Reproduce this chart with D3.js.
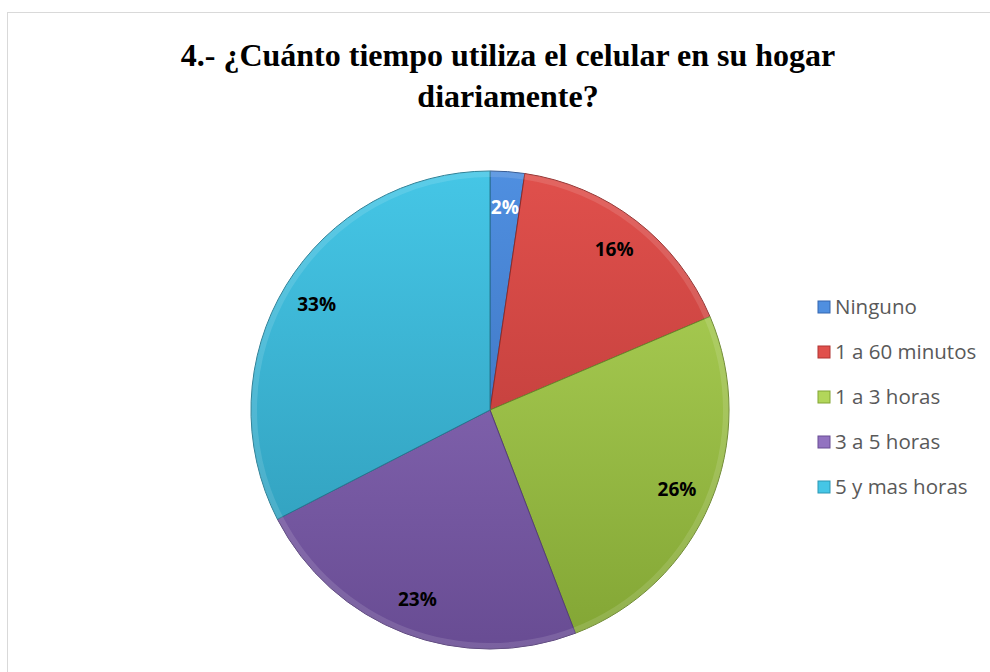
<!DOCTYPE html>
<html>
<head>
<meta charset="utf-8">
<script src="https://cdn.jsdelivr.net/npm/d3@7"></script>
<style>
  body { margin: 0; background: #fff; }
</style>
</head>
<body>
<svg id="chart" width="990" height="672"></svg>
<script>
// data (counts, shown as percentages)
const categories = ["Ninguno", "1 a 60 minutos", "1 a 3 horas", "3 a 5 horas", "5 y mas horas"];
const counts = [2, 14, 22, 20, 28];
const colorsLight = ["#4f8fe0", "#e0504c", "#b2d65a", "#9272c0", "#45c6e6"];
const colorsDark = ["#3566b0", "#b03533", "#82a534", "#684c93", "#2d97b4"];
const titleLines = ["4.- ¿Cuánto tiempo utiliza el celular en su hogar", "diariamente?"];

const width = 990, height = 672;
const cx = 490, cy = 410, radius = 239;

const svg = d3.select("#chart");

// chart area border
svg.append("rect")
  .attr("x", 7.5).attr("y", 12.5)
  .attr("width", 1000).attr("height", 700)
  .attr("fill", "#fff")
  .attr("stroke", "#d9d9d9");

const defs = svg.append("defs");
categories.forEach((c, i) => {
  const g = defs.append("linearGradient")
    .attr("id", "grad" + i)
    .attr("gradientUnits", "userSpaceOnUse")
    .attr("x1", 0).attr("y1", -radius)
    .attr("x2", 0).attr("y2", radius);
  g.append("stop").attr("offset", "0%").attr("stop-color", colorsLight[i]);
  g.append("stop").attr("offset", "100%").attr("stop-color", colorsDark[i]);
});

// title
svg.append("text")
  .attr("x", 508).attr("y", 66)
  .attr("text-anchor", "middle")
  .style("font-family", "'Liberation Serif', 'Times New Roman', serif")
  .style("font-weight", "bold")
  .style("font-size", "32px")
  .selectAll("tspan")
  .data(titleLines)
  .join("tspan")
    .attr("x", 508)
    .attr("dy", (d, i) => i === 0 ? 0 : 41)
    .text(d => d);

const total = d3.sum(counts);
const pie = d3.pie().sort(null).value(d => d)(counts);
const arc = d3.arc().innerRadius(0).outerRadius(radius);
const labelArc = d3.arc().innerRadius(radius * 0.85).outerRadius(radius * 0.85);

const g = svg.append("g").attr("transform", `translate(${cx},${cy})`);

g.selectAll("path.slice")
  .data(pie)
  .join("path")
    .attr("class", "slice")
    .attr("d", arc)
    .attr("fill", (d, i) => `url(#grad${i})`)
    .attr("stroke", (d, i) => d3.color(colorsDark[i]).darker(0.6))
    .attr("stroke-width", 1);

// subtle bevel highlight along the rim
const rimArc = d3.arc().innerRadius(radius - 6).outerRadius(radius);
g.selectAll("path.rim")
  .data(pie)
  .join("path")
    .attr("class", "rim")
    .attr("d", rimArc)
    .attr("fill", "#fff")
    .attr("opacity", 0.12);

g.selectAll("text.lbl")
  .data(pie)
  .join("text")
    .attr("class", "lbl")
    .attr("transform", d => `translate(${labelArc.centroid(d)})`)
    .attr("text-anchor", "middle")
    .attr("dy", "0.35em")
    .style("font-family", "'Open Sans', 'Liberation Sans', sans-serif")
    .style("font-weight", "bold")
    .style("font-size", "19px")
    .attr("fill", (d, i) => i === 0 ? "#fff" : "#000")
    .text(d => Math.round(d.data / total * 100) + "%");

// legend
const legendY = d3.scalePoint().domain(categories).range([307, 487]);
const legend = svg.append("g");
const items = legend.selectAll("g")
  .data(categories)
  .join("g")
    .attr("transform", d => `translate(818,${legendY(d)})`);
items.append("rect")
  .attr("x", 0).attr("y", -6)
  .attr("width", 12).attr("height", 12)
  .attr("fill", (d, i) => colorsLight[i])
  .attr("stroke", (d, i) => colorsDark[i]);
items.append("text")
  .attr("x", 17).attr("dy", "0.35em")
  .style("font-family", "'Open Sans', 'Liberation Sans', sans-serif")
  .style("font-size", "20.5px")
  .attr("fill", "#595959")
  .text(d => d);
</script>
</body>
</html>
